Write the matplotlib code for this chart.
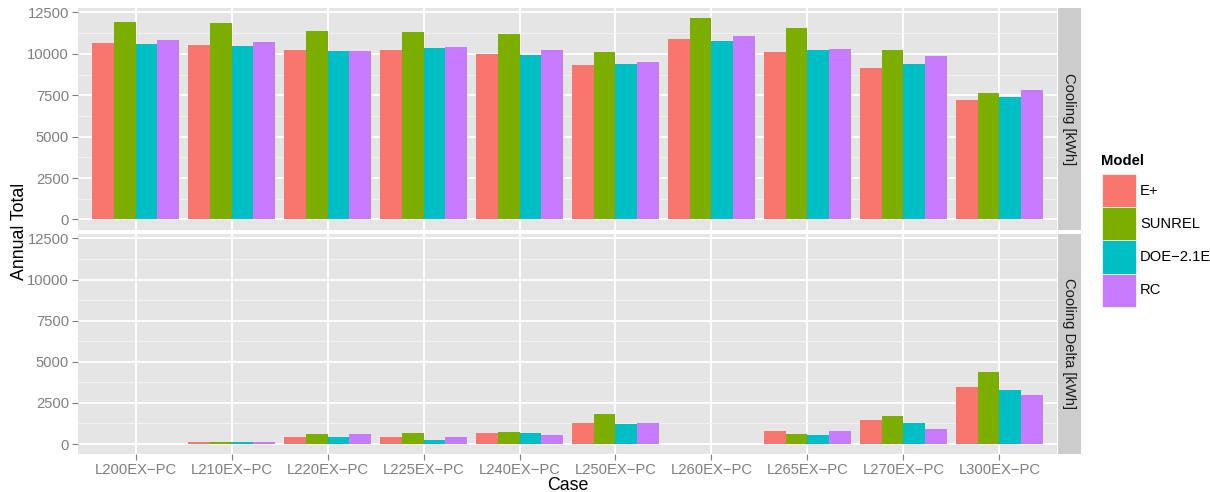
import matplotlib
matplotlib.use("Agg")
import matplotlib.pyplot as plt
from matplotlib.patches import Rectangle
from matplotlib.ticker import MultipleLocator
import numpy as np

plt.rcParams["font.family"] = ["Liberation Sans", "DejaVu Sans"]

# ---- data -------------------------------------------------------------
cases = ["L200EX−PC", "L210EX−PC", "L220EX−PC", "L225EX−PC", "L240EX−PC",
         "L250EX−PC", "L260EX−PC", "L265EX−PC", "L270EX−PC", "L300EX−PC"]
models = ["E+", "SUNREL", "DOE−2.1E", "RC"]
model_colors = ["#F8766D", "#7CAE00", "#00BFC4", "#C77CFF"]
facets = ["Cooling [kWh]", "Cooling Delta [kWh]"]

cooling_eplus  = [10650, 10525, 10220, 10220, 9980, 9310, 10890, 10100, 9130, 7190]
cooling_sunrel = [11920, 11860, 11375, 11310, 11190, 10100, 12160, 11555, 10220, 7615]
cooling_doe    = [10585, 10465, 10160, 10340, 9920, 9375, 10770, 10220, 9375, 7375]
cooling_rc     = [10825, 10705, 10160, 10405, 10220, 9495, 11070, 10280, 9860, 7800]

delta_eplus  = [0, 130, 445, 445, 690, 1300, 0, 810, 1480, 3485]
delta_sunrel = [0, 120, 630, 690, 750, 1845, 0, 630, 1720, 4395]
delta_doe    = [0, 120, 445, 265, 690, 1235, 0, 565, 1300, 3300]
delta_rc     = [0, 120, 630, 445, 565, 1300, 0, 810, 930, 3000]

panel_values = [
    [cooling_eplus, cooling_sunrel, cooling_doe, cooling_rc],
    [delta_eplus, delta_sunrel, delta_doe, delta_rc],
]

# ---- figure -----------------------------------------------------------
W, H = 1210, 492
fig = plt.figure(figsize=(W / 100, H / 100), dpi=100)


def px_axes(left, top, right, bottom):
    return fig.add_axes([left / W, 1 - bottom / H, (right - left) / W, (bottom - top) / H])


panel_bg = "#E5E5E5"
grid_major = "#FFFFFF"
grid_minor = "#F2F2F2"
tick_grey = "#7F7F7F"
strip_bg = "#CCCCCC"
label_size = 10.6

ymax = max(max(v) for p in panel_values for v in p)
ylim = (-0.05 * ymax, 1.05 * ymax)

n_cases = len(cases)
n_models = len(models)
x = np.arange(n_cases)
bar_w = 0.9 / n_models

panel_boxes = [(78, 8, 1057, 229.5), (78, 234, 1057, 454)]
strip_boxes = [(1058, 8, 1081, 229.5), (1058, 234, 1081, 454)]

for i, (box, sbox) in enumerate(zip(panel_boxes, strip_boxes)):
    ax = px_axes(*box)
    ax.set_facecolor(panel_bg)
    ax.set_axisbelow(True)
    for m in range(n_models):
        offs = (m - (n_models - 1) / 2) * bar_w
        ax.bar(x + offs, panel_values[i][m], width=bar_w, color=model_colors[m],
               linewidth=0, zorder=3)
    ax.set_xlim(-0.6, n_cases - 1 + 0.6)
    ax.set_ylim(*ylim)
    ax.yaxis.set_major_locator(MultipleLocator(2500))
    ax.yaxis.set_minor_locator(MultipleLocator(1250))
    ax.set_xticks(x)
    ax.grid(which="major", color=grid_major, linewidth=1.3)
    ax.grid(which="minor", axis="y", color=grid_minor, linewidth=0.7)
    for s in ax.spines.values():
        s.set_visible(False)
    ax.tick_params(axis="y", which="minor", length=0)
    ax.tick_params(axis="both", which="major", length=4, width=0.8, color=tick_grey,
                   labelcolor=tick_grey, labelsize=label_size, pad=2.5)
    ax.set_yticklabels([f"{int(t)}" for t in ax.get_yticks()])
    if i == 0:
        ax.tick_params(axis="x", length=0, labelbottom=False)
    else:
        ax.set_xticklabels(cases)

    sax = px_axes(*sbox)
    sax.set_facecolor(strip_bg)
    sax.set_xticks([])
    sax.set_yticks([])
    for s in sax.spines.values():
        s.set_visible(False)
    sax.text(0.5, 0.5, facets[i], rotation=-90, ha="center", va="center",
             fontsize=label_size, color="#1A1A1A", transform=sax.transAxes)

# axis titles
fig.text(20 / W, 1 - 231 / H, "Annual Total", rotation=90, ha="center", va="center",
         fontsize=12.8, color="black")
fig.text(567.5 / W, 1 - 490 / H, "Case", ha="center", va="baseline",
         fontsize=12.8, color="black")

# legend
fig.text(1101 / W, 1 - 161 / H, "Model", ha="left", va="center",
         fontsize=label_size, fontweight="bold", color="black")
key_top, key_h, key_left, key_w = 174, 33.2, 1102, 34
for m in range(n_models):
    t = key_top + m * key_h
    fig.add_artist(Rectangle((key_left / W, 1 - (t + key_h) / H), key_w / W, key_h / H,
                             transform=fig.transFigure, facecolor=model_colors[m],
                             edgecolor="white", linewidth=0.5))
    fig.text((key_left + key_w + 4) / W, 1 - (t + key_h / 2) / H, models[m],
             ha="left", va="center", fontsize=label_size, color="black")

fig.savefig("out.png", dpi=100, facecolor="white")
